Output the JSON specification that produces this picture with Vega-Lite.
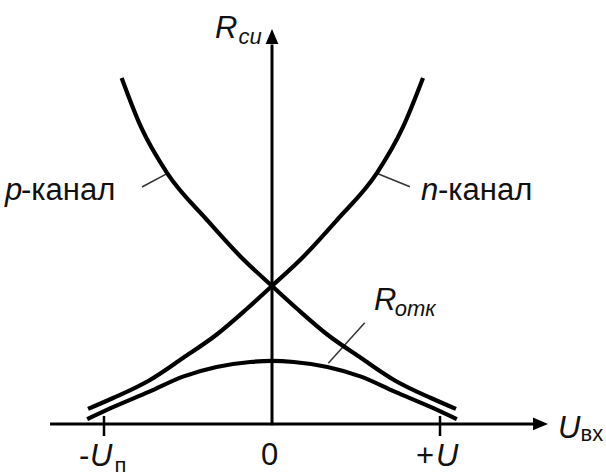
{
  "$schema": "https://vega.github.io/schema/vega-lite/v6.json",
  "width": 606,
  "height": 472,
  "autosize": "none",
  "padding": 0,
  "background": "white",
  "config": {"view": {"stroke": null}},
  "datasets": {
    "curves": [
      {"curve": "n", "U": -1.095, "R": 0.109},
      {"curve": "n", "U": -0.946, "R": 0.188},
      {"curve": "n", "U": -0.726, "R": 0.319},
      {"curve": "n", "U": -0.53, "R": 0.478},
      {"curve": "n", "U": -0.327, "R": 0.65},
      {"curve": "n", "U": -0.149, "R": 0.835},
      {"curve": "n", "U": 0, "R": 1.0},
      {"curve": "n", "U": 0.185, "R": 1.21},
      {"curve": "n", "U": 0.387, "R": 1.478},
      {"curve": "n", "U": 0.625, "R": 1.819},
      {"curve": "n", "U": 0.78, "R": 2.152},
      {"curve": "n", "U": 0.899, "R": 2.507},
      {"curve": "p", "U": 1.095, "R": 0.109},
      {"curve": "p", "U": 0.946, "R": 0.188},
      {"curve": "p", "U": 0.726, "R": 0.319},
      {"curve": "p", "U": 0.53, "R": 0.478},
      {"curve": "p", "U": 0.327, "R": 0.65},
      {"curve": "p", "U": 0.149, "R": 0.835},
      {"curve": "p", "U": 0, "R": 1.0},
      {"curve": "p", "U": -0.185, "R": 1.21},
      {"curve": "p", "U": -0.387, "R": 1.478},
      {"curve": "p", "U": -0.625, "R": 1.819},
      {"curve": "p", "U": -0.78, "R": 2.152},
      {"curve": "p", "U": -0.895, "R": 2.507},
      {"curve": "otk", "U": -1.1, "R": 0.035},
      {"curve": "otk", "U": -0.95, "R": 0.12},
      {"curve": "otk", "U": -0.73, "R": 0.234},
      {"curve": "otk", "U": -0.53, "R": 0.343},
      {"curve": "otk", "U": -0.33, "R": 0.413},
      {"curve": "otk", "U": -0.13, "R": 0.449},
      {"curve": "otk", "U": 0, "R": 0.457},
      {"curve": "otk", "U": 0.13, "R": 0.449},
      {"curve": "otk", "U": 0.33, "R": 0.413},
      {"curve": "otk", "U": 0.53, "R": 0.343},
      {"curve": "otk", "U": 0.73, "R": 0.234},
      {"curve": "otk", "U": 0.95, "R": 0.12},
      {"curve": "otk", "U": 1.1, "R": 0.035}
    ],
    "axisLines": [
      {"name": "U axis", "U": -1.321, "U2": 1.56, "R": 0, "R2": 0},
      {"name": "R axis", "U": 0, "U2": 0, "R": -0.01, "R2": 2.75}
    ],
    "ticks": [
      {"name": "-Un", "U": -1, "U2": -1, "R": 0.058, "R2": -0.087},
      {"name": "+U", "U": 1, "U2": 1, "R": 0.058, "R2": -0.087}
    ],
    "leaders": [
      {"name": "p", "U": -0.774, "R": 1.717, "U2": -0.625, "R2": 1.814},
      {"name": "n", "U": 0.623, "R": 1.817, "U2": 0.821, "R2": 1.719},
      {"name": "otk", "U": 0.335, "R": 0.44, "U2": 0.552, "R2": 0.734}
    ],
    "arrowsRight": [{"U": 1.598, "R": 0}],
    "arrowsUp": [{"U": 0, "R": 2.808}],
    "mainItalic": [
      {"t": "p", "U": -1.589, "R": 1.623},
      {"t": "n", "U": 0.887, "R": 1.623},
      {"t": "R", "U": -0.339, "R": 2.797},
      {"t": "U", "U": 1.702, "R": -0.101},
      {"t": "U", "U": -1.083, "R": -0.304},
      {"t": "U", "U": 0.976, "R": -0.304},
      {"t": "R", "U": 0.607, "R": 0.826}
    ],
    "mainPlain": [
      {"t": "-канал", "U": -1.494, "R": 1.623},
      {"t": "-канал", "U": 0.988, "R": 1.623},
      {"t": "-", "U": -1.149, "R": -0.304},
      {"t": "0", "U": -0.066, "R": -0.297},
      {"t": "+", "U": 0.857, "R": -0.304}
    ],
    "subItalic": [
      {"t": "си", "U": -0.2, "R": 2.754},
      {"t": "отк", "U": 0.73, "R": 0.783}
    ],
    "subPlain": [
      {"t": "вх", "U": 1.836, "R": -0.123},
      {"t": "п", "U": -0.937, "R": -0.355}
    ]
  },
  "encoding": {
    "x": {"field": "U", "type": "quantitative", "scale": {"domain": [-1.619, 1.988], "nice": false, "zero": false}, "axis": null},
    "y": {"field": "R", "type": "quantitative", "scale": {"domain": [-0.348, 3.072], "nice": false, "zero": false}, "axis": null}
  },
  "layer": [
    {
      "data": {"name": "axisLines"},
      "mark": {"type": "rule", "color": "#000", "strokeWidth": 3},
      "encoding": {"x2": {"field": "U2"}, "y2": {"field": "R2"}}
    },
    {
      "data": {"name": "ticks"},
      "mark": {"type": "rule", "color": "#000", "strokeWidth": 2.5},
      "encoding": {"x2": {"field": "U2"}, "y2": {"field": "R2"}}
    },
    {
      "data": {"name": "arrowsRight"},
      "mark": {"type": "point", "shape": "M-1,-0.85L1,0L-1,0.85Z", "size": 225, "filled": true, "color": "#000", "opacity": 1}
    },
    {
      "data": {"name": "arrowsUp"},
      "mark": {"type": "point", "shape": "M-0.85,1L0,-1L0.85,1Z", "size": 225, "filled": true, "color": "#000", "opacity": 1}
    },
    {
      "data": {"name": "leaders"},
      "mark": {"type": "rule", "color": "#333", "strokeWidth": 1.5},
      "encoding": {"x2": {"field": "U2"}, "y2": {"field": "R2"}}
    },
    {
      "data": {"name": "curves"},
      "mark": {"type": "line", "color": "#000", "strokeWidth": 4.2, "interpolate": "monotone", "strokeCap": "butt"},
      "encoding": {"detail": {"field": "curve"}}
    },
    {
      "data": {"name": "mainItalic"},
      "mark": {"type": "text", "font": "Liberation Sans", "fontSize": 31, "fontStyle": "italic", "align": "left", "baseline": "alphabetic", "color": "#111"},
      "encoding": {"text": {"field": "t"}}
    },
    {
      "data": {"name": "mainPlain"},
      "mark": {"type": "text", "font": "Liberation Sans", "fontSize": 31, "align": "left", "baseline": "alphabetic", "color": "#111"},
      "encoding": {"text": {"field": "t"}}
    },
    {
      "data": {"name": "subItalic"},
      "mark": {"type": "text", "font": "Liberation Sans", "fontSize": 22, "fontStyle": "italic", "align": "left", "baseline": "alphabetic", "color": "#111"},
      "encoding": {"text": {"field": "t"}}
    },
    {
      "data": {"name": "subPlain"},
      "mark": {"type": "text", "font": "Liberation Sans", "fontSize": 22, "align": "left", "baseline": "alphabetic", "color": "#111"},
      "encoding": {"text": {"field": "t"}}
    }
  ]
}
